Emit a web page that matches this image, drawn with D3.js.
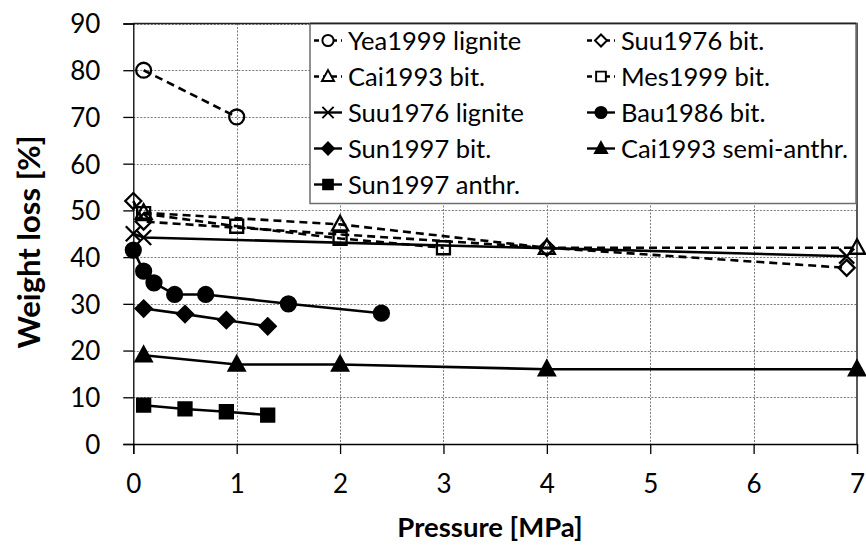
<!DOCTYPE html>
<html>
<head>
<meta charset="utf-8">
<script src="https://cdn.jsdelivr.net/npm/d3@7"></script>
<style>
  html, body { margin: 0; padding: 0; background: #fff; }
  svg { display: block; font-family: Lato, "Open Sans", sans-serif; }
</style>
</head>
<body>
<svg id="chart" width="866" height="551"></svg>
<script>
// Weight loss vs. pressure for several coals (literature data)
const xTicks = [0, 1, 2, 3, 4, 5, 6, 7];
const yTicks = [0, 10, 20, 30, 40, 50, 60, 70, 80, 90];

const seriesNames = [
  "Yea1999 lignite", "Suu1976 bit.", "Cai1993 bit.", "Mes1999 bit.",
  "Suu1976 lignite", "Bau1986 bit.", "Sun1997 bit.", "Cai1993 semi-anthr.",
  "Sun1997 anthr."
];

const yea1999LigniteP = [0.1, 1];
const yea1999LigniteW = [80, 70];

const suu1976BitP = [0, 0.1, 4, 6.9];
const suu1976BitW = [52, 47.6, 42, 37.7];

const cai1993BitP = [0.1, 2, 4, 7];
const cai1993BitW = [49.5, 47, 42, 42];

const mes1999BitP = [0.1, 1, 2, 3];
const mes1999BitW = [49.3, 46.6, 44, 42];

const suu1976LigniteP = [0, 0.1, 6.9];
const suu1976LigniteW = [45, 44.2, 40.2];

const bau1986BitP = [0, 0.1, 0.2, 0.4, 0.7, 1.5, 2.4];
const bau1986BitW = [41.5, 37, 34.5, 32, 32, 30, 28];

const sun1997BitP = [0.1, 0.5, 0.9, 1.3];
const sun1997BitW = [29, 27.8, 26.5, 25.2];

const cai1993SemiP = [0.1, 1, 2, 4, 7];
const cai1993SemiW = [19, 17, 17, 16, 16];

const sun1997AnthrP = [0.1, 0.5, 0.9, 1.3];
const sun1997AnthrW = [8.3, 7.5, 6.9, 6.2];

// marker shape, filled or open, dashed or solid line
const styles = [
  { shape: "circle",   filled: false, dashed: true  },
  { shape: "diamond",  filled: false, dashed: true  },
  { shape: "triangle", filled: false, dashed: true  },
  { shape: "square",   filled: false, dashed: true  },
  { shape: "cross",    filled: false, dashed: false },
  { shape: "circle",   filled: true,  dashed: false },
  { shape: "diamond",  filled: true,  dashed: false },
  { shape: "triangle", filled: true,  dashed: false },
  { shape: "square",   filled: true,  dashed: false }
];

const seriesP = [yea1999LigniteP, suu1976BitP, cai1993BitP, mes1999BitP,
  suu1976LigniteP, bau1986BitP, sun1997BitP, cai1993SemiP, sun1997AnthrP];
const seriesW = [yea1999LigniteW, suu1976BitW, cai1993BitW, mes1999BitW,
  suu1976LigniteW, bau1986BitW, sun1997BitW, cai1993SemiW, sun1997AnthrW];

const series = seriesNames.map((name, i) => ({
  name,
  style: styles[i],
  points: seriesP[i].map((p, j) => ({ p, w: seriesW[i][j] }))
}));

const svg = d3.select("#chart");
const plot = { left: 133.3, right: 857, top: 23.5, bottom: 444 };

const x = d3.scaleLinear().domain([0, 7]).range([plot.left, plot.right]);
const y = d3.scaleLinear().domain([0, 90]).range([plot.bottom, plot.top]);

// gridlines
const grid = svg.append("g").attr("stroke", "#7a7a7a").attr("stroke-width", 1)
  .attr("stroke-dasharray", "2,1.5");
grid.selectAll("line.h").data(yTicks.filter(t => t > 0)).join("line")
  .attr("x1", plot.left).attr("x2", plot.right)
  .attr("y1", d => Math.round(y(d)) + 0.5).attr("y2", d => Math.round(y(d)) + 0.5);
grid.selectAll("line.v").data(xTicks.filter(t => t > 0 && t < 7)).join("line")
  .attr("y1", plot.top).attr("y2", plot.bottom)
  .attr("x1", d => Math.round(x(d)) + 0.5).attr("x2", d => Math.round(x(d)) + 0.5);

// plot frame (top and right)
svg.append("path")
  .attr("d", `M${plot.left},${plot.top}H${plot.right}V${plot.bottom}`)
  .attr("fill", "none").attr("stroke", "#222").attr("stroke-width", 1.5);

// axes
const xAxis = d3.axisBottom(x).tickValues(xTicks).tickSize(10).tickPadding(21)
  .tickFormat(d3.format("d"));
const yAxis = d3.axisLeft(y).tickValues(yTicks).tickSize(10).tickPadding(23)
  .tickFormat(d3.format("d"));

const gx = svg.append("g").attr("transform", `translate(0,${plot.bottom})`).call(xAxis);
const gy = svg.append("g").attr("transform", `translate(${plot.left},0)`).call(yAxis);
[gx, gy].forEach(g => {
  g.select(".domain").attr("stroke", "#000").attr("stroke-width", 1.3);
  g.selectAll(".tick line").attr("stroke", "#000").attr("stroke-width", 1.3);
  g.selectAll(".tick text").attr("fill", "#000").style("font-size", "26px")
    .style("font-family", "Lato, sans-serif");
});
gx.selectAll(".tick text").attr("dy", "0.71em");
gy.selectAll(".tick text").attr("dy", "0.36em");

// axis titles
svg.append("text").attr("x", 490).attr("y", 537).attr("text-anchor", "middle")
  .style("font-size", "27.5px").style("font-weight", "bold").attr("fill", "#000")
  .text("Pressure [MPa]");
svg.append("text")
  .attr("transform", `translate(40,${242}) rotate(-90)`)
  .attr("text-anchor", "middle")
  .style("font-size", "31px").style("font-weight", "bold").attr("fill", "#000")
  .text("Weight loss [%]");

// marker path generator
function markerPath(shape) {
  switch (shape) {
    case "circle":   return d3.symbol(d3.symbolCircle, 175)();
    case "diamond":  return "M0,-8L8,0L0,8L-8,0Z";
    case "triangle": return "M0,-8.5L8,6L-8,6Z";
    case "square":   return "M-6.5,-6.5H6.5V6.5H-6.5Z";
    case "cross":    return "M-7.5,-7.5L7.5,7.5M-7.5,7.5L7.5,-7.5";
  }
}

function drawMarker(g, s, cx, cy) {
  const st = s.style;
  g.append("path")
    .attr("d", markerPath(st.shape))
    .attr("transform", `translate(${cx},${cy})`)
    .attr("fill", st.filled ? "#000" : "none")
    .attr("stroke", "#000")
    .attr("stroke-width", 2.3);
}

const line = d3.line().x(d => x(d.p)).y(d => y(d.w));

const layer = svg.append("g");
series.forEach(s => {
  const g = layer.append("g");
  g.append("path").datum(s.points)
    .attr("d", line)
    .attr("fill", "none").attr("stroke", "#000").attr("stroke-width", 2.6)
    .attr("stroke-dasharray", s.style.dashed ? "8,5" : null);
  s.points.forEach(d => drawMarker(g, s, x(d.p), y(d.w)));
});

// legend
const legend = { x: 310, y: plot.top, w: 546, h: 180 };
svg.append("rect")
  .attr("x", legend.x).attr("y", legend.y).attr("width", legend.w).attr("height", legend.h)
  .attr("fill", "#fff").attr("stroke", "#6e6e6e").attr("stroke-width", 1.5);
svg.append("line").attr("x1", legend.x).attr("x2", legend.x + legend.w)
  .attr("y1", plot.top).attr("y2", plot.top).attr("stroke", "#222").attr("stroke-width", 1.5);

const colX = [328, 601];
const rowY = [40.5, 76.5, 112.5, 148.5, 184.5];
series.forEach((s, i) => {
  const cx = colX[i % 2];
  const cy = rowY[Math.floor(i / 2)];
  const g = svg.append("g");
  g.append("line").attr("x1", cx - 14).attr("x2", cx + 14)
    .attr("y1", cy).attr("y2", cy)
    .attr("stroke", "#000").attr("stroke-width", 2.4)
    .attr("stroke-dasharray", s.style.dashed ? "5,4" : null);
  const st = s.style;
  g.append("path")
    .attr("d", markerPath(st.shape))
    .attr("transform", `translate(${cx},${cy}) scale(0.75)`)
    .attr("fill", st.filled ? "#000" : "#fff")
    .attr("stroke", "#000").attr("stroke-width", 2.6);
  g.append("text").attr("x", cx + 20).attr("y", cy).attr("dy", "0.36em")
    .style("font-size", "25.5px").attr("fill", "#000").text(s.name);
});
</script>
</body>
</html>
